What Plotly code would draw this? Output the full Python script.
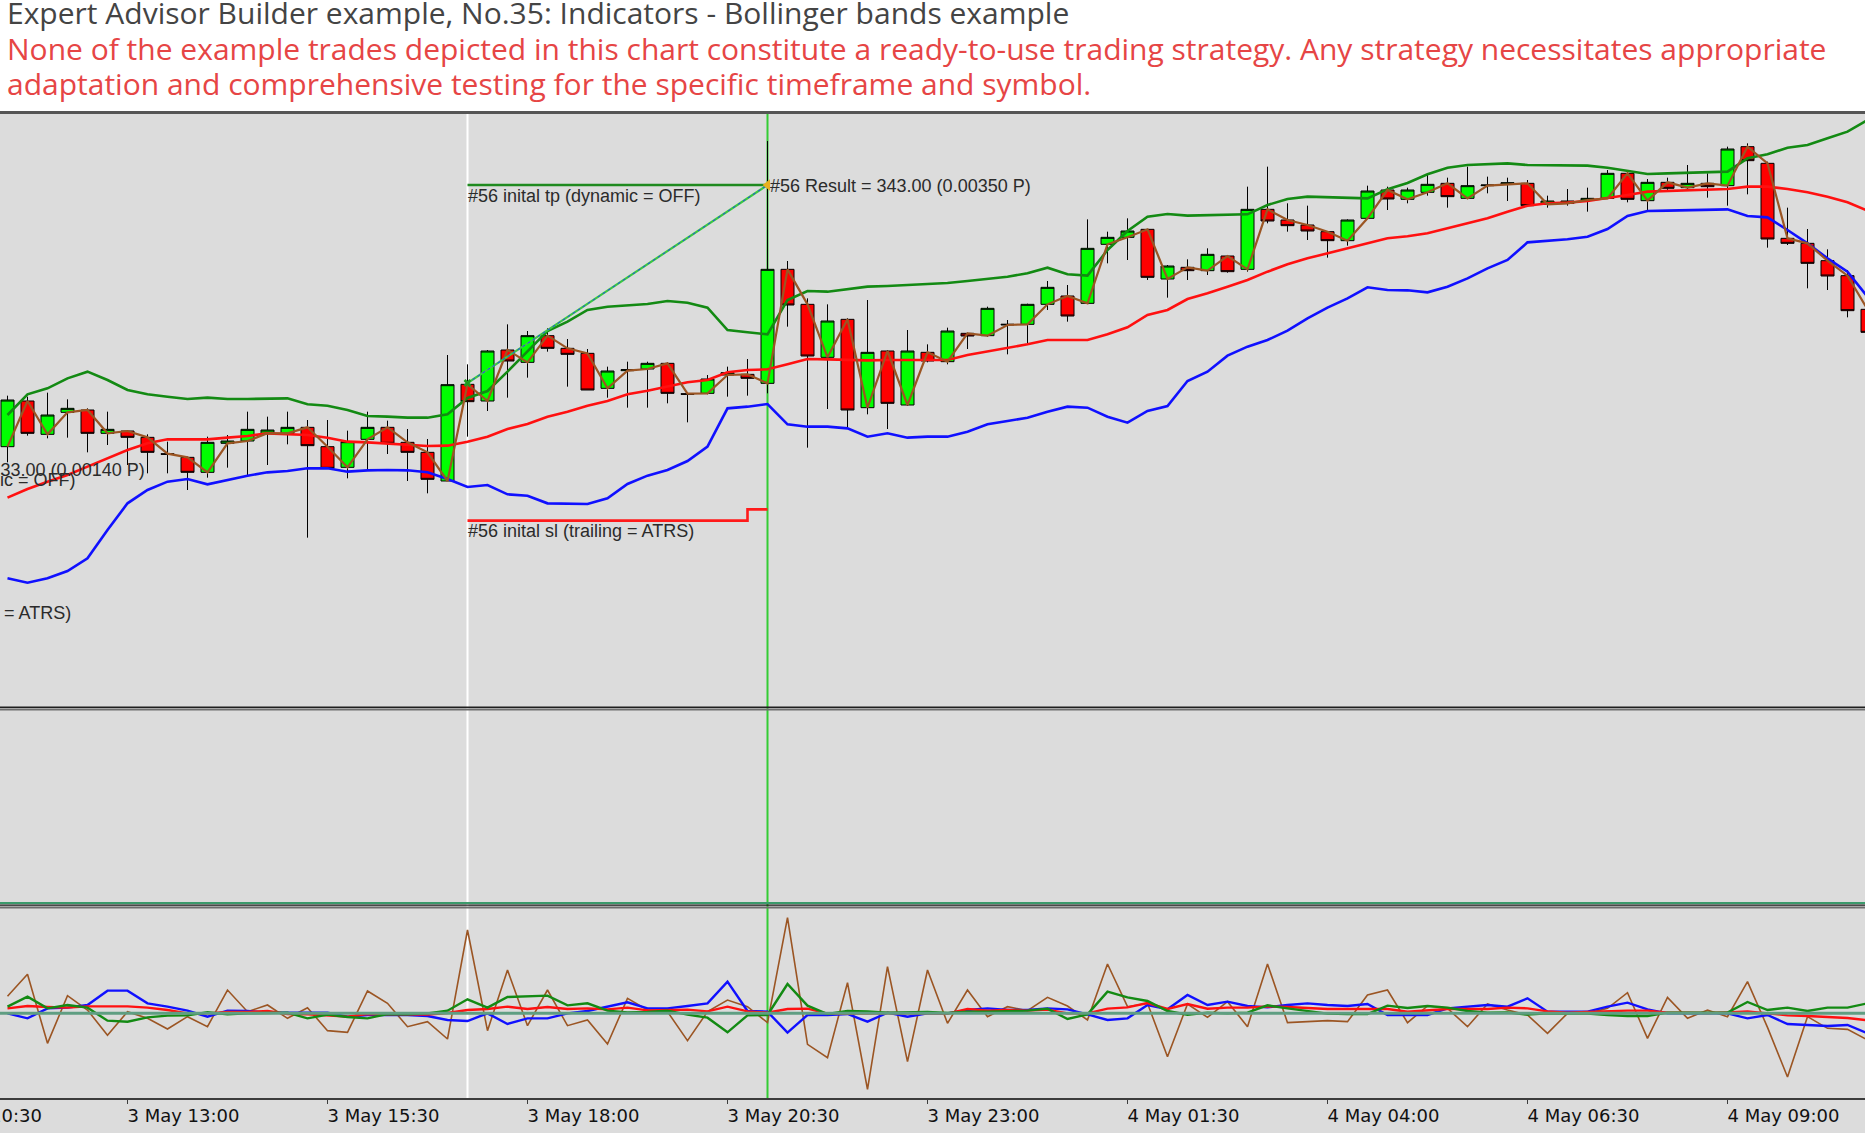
import pandas as pd
import plotly.graph_objects as go

# ---------------- data ----------------
times = pd.date_range("2024-05-03 11:30", periods=94, freq="15min")

open_ = [787, 924, 824, 890, 897, 827, 834, 815, 766, 755,
         710, 797, 804, 827, 827, 845, 787, 725, 809, 845,
         800, 770, 684, 974, 924, 1077, 1040, 1120, 1082, 1067,
         962, 1015, 1020, 1037, 946, 947, 1002, 1004, 977, 1319,
         1214, 1055, 1169, 904, 1074, 912, 1070, 1042, 1127, 1120,
         1152, 1154, 1214, 1239, 1217, 1394, 1415, 1439, 1290, 1325,
         1315, 1359, 1319, 1499, 1467, 1452, 1432, 1405, 1472, 1557,
         1529, 1550, 1577, 1532, 1570, 1574, 1577, 1514, 1517, 1527,
         1532, 1607, 1525, 1580, 1564, 1577, 1570, 1687, 1637, 1412,
         1397, 1345, 1300, 1199]
high = [940, 937, 949, 929, 902, 892, 837, 824, 802, 757,
        817, 822, 892, 877, 892, 867, 867, 835, 892, 865,
        840, 810, 1062, 1034, 1077, 1154, 1134, 1142, 1110, 1080,
        1027, 1042, 1042, 1040, 947, 1002, 1027, 1050, 1704, 1344,
        1232, 1214, 1172, 1227, 1076, 1137, 1094, 1144, 1129, 1207,
        1167, 1216, 1284, 1272, 1469, 1432, 1472, 1440, 1332, 1349,
        1382, 1362, 1567, 1627, 1517, 1510, 1434, 1469, 1570, 1567,
        1564, 1602, 1594, 1627, 1597, 1594, 1587, 1540, 1560, 1564,
        1617, 1610, 1590, 1594, 1632, 1607, 1687, 1697, 1642, 1504,
        1440, 1379, 1317, 1202]
low = [740, 820, 812, 814, 770, 792, 732, 707, 707, 657,
       694, 724, 702, 732, 794, 514, 720, 692, 720, 765,
       684, 647, 684, 817, 894, 934, 994, 1072, 967, 957,
       934, 904, 904, 917, 860, 944, 937, 940, 947, 1147,
       784, 900, 842, 884, 840, 910, 1040, 1034, 1080, 1117,
       1064, 1097, 1197, 1162, 1215, 1337, 1347, 1287, 1234, 1287,
       1302, 1309, 1312, 1457, 1432, 1407, 1354, 1390, 1470, 1497,
       1517, 1540, 1504, 1530, 1547, 1524, 1510, 1504, 1510, 1492,
       1530, 1520, 1497, 1557, 1560, 1534, 1510, 1544, 1384, 1392,
       1262, 1257, 1175, 1112]
close = [927, 827, 882, 902, 827, 839, 815, 770, 764, 710,
         800, 804, 839, 837, 845, 790, 722, 802, 845, 797,
         770, 689, 973, 922, 1074, 1044, 1120, 1082, 1064, 957,
         1014, 1018, 1037, 947, 944, 990, 1009, 992, 1319, 1212,
         1059, 1164, 897, 1070, 917, 1074, 1044, 1134, 1119, 1202,
         1154, 1214, 1265, 1179, 1382, 1415, 1434, 1295, 1329, 1315,
         1364, 1312, 1499, 1464, 1450, 1434, 1405, 1467, 1554, 1530,
         1557, 1574, 1537, 1570, 1572, 1579, 1510, 1524, 1524, 1532,
         1607, 1529, 1580, 1562, 1577, 1567, 1680, 1645, 1410, 1397,
         1337, 1299, 1195, 1130]

bb_upper = [882, 944, 962, 992, 1012, 987, 957, 944, 937, 930,
            934, 930, 930, 930, 932, 914, 910, 897, 879, 877,
            874, 874, 884, 933, 954, 1012, 1072, 1134, 1162, 1197,
            1207, 1210, 1215, 1224, 1219, 1204, 1137, 1130, 1124, 1227,
            1254, 1252, 1260, 1267, 1269, 1272, 1277, 1278, 1284, 1290,
            1297, 1307, 1324, 1304, 1300, 1377, 1434, 1477, 1485, 1480,
            1482, 1482, 1484, 1512, 1530, 1537, 1536, 1534, 1532, 1559,
            1578, 1604, 1624, 1632, 1634, 1637, 1632, 1632, 1631, 1630,
            1624, 1614, 1605, 1607, 1609, 1610, 1612, 1652, 1664, 1684,
            1692, 1712, 1732, 1767]
bb_middle = [634, 660, 682, 702, 727, 752, 777, 797, 809, 809,
             809, 814, 819, 827, 825, 822, 814, 802, 800, 797,
             794, 789, 790, 802, 817, 840, 855, 877, 892, 910,
             924, 944, 955, 967, 980, 987, 1010, 1017, 1019, 1034,
             1050, 1049, 1047, 1046, 1047, 1047, 1048, 1047, 1062, 1072,
             1084, 1094, 1107, 1107, 1107, 1124, 1145, 1182, 1197, 1230,
             1247, 1267, 1287, 1312, 1334, 1352, 1367, 1382, 1397, 1412,
             1418, 1427, 1442, 1457, 1472, 1492, 1510, 1517, 1519, 1524,
             1532, 1542, 1552, 1554, 1556, 1557, 1560, 1567, 1567, 1560,
             1550, 1537, 1520, 1495]
bb_lower = [392, 379, 392, 414, 452, 537, 617, 657, 682, 690,
            674, 687, 700, 710, 714, 722, 722, 712, 716, 717,
            716, 710, 690, 666, 672, 644, 640, 617, 615, 615,
            632, 675, 700, 717, 744, 787, 902, 907, 915, 854,
            847, 847, 842, 817, 827, 814, 817, 817, 832, 854,
            864, 874, 892, 907, 904, 877, 859, 894, 909, 984,
            1012, 1060, 1087, 1107, 1135, 1172, 1204, 1232, 1265, 1257,
            1256, 1250, 1267, 1292, 1322, 1347, 1400, 1404, 1409, 1417,
            1440, 1479, 1494, 1495, 1497, 1499, 1499, 1479, 1475, 1437,
            1397, 1352, 1312, 1237]

osc_brown = [51, 117, -90, 53, 10, -66, 5, -15, -47, -10,
             -40, 70, 5, 25, -15, 17, -52, -57, 67, 30,
             -40, -25, -77, 250, -52, 130, -37, 70, -37, -20,
             -92, 45, 10, 5, -82, 5, 40, 20, -28, 287,
             -93, -133, 92, -228, 140, -145, 130, -30, 70, -10,
             20, 8, 48, 22, -20, 148, 20, 30, -130, 28,
             -12, 35, -40, 148, -28, -25, -22, -25, 55, 70,
             -28, 22, 15, -40, 28, 10, -5, -60, 0, 0,
             15, 62, -75, 48, -15, 10, -10, 95, -42, -191,
             -10, -45, -48, -80]
osc_blue = [0, -15, 15, 17, 25, 68, 68, 30, 20, 8,
            -10, 8, 7, 2, 2, 2, 2, -10, -5, -5,
            -5, -8, -20, -23, 0, -32, -15, -15, 0, 7,
            20, 33, 15, 15, 22, 30, 95, 7, 5, -58,
            -5, -5, -2, -25, 2, -10, 0, 0, 10, 15,
            10, 10, 15, 12, -3, -20, -15, 25, 12, 55,
            25, 35, 22, 18, 25, 30, 25, 22, 28, -5,
            -5, -5, 15, 20, 25, 20, 45, 5, 5, 5,
            20, 32, 12, 0, 0, 0, 0, -15, -5, -32,
            -35, -38, -35, -60]
osc_green = [20, 50, 15, 25, 17, -22, -25, -12, -7, -6,
             3, -3, 0, 0, 2, -15, -4, -11, -15, -2,
             -3, 0, 8, 42, 17, 49, 51, 53, 24, 30,
             8, 3, 4, 8, -4, -13, -57, -6, -5, 88,
             23, -2, 7, 6, 2, 3, 4, 1, 5, 5,
             6, 8, 14, -17, -3, 65, 48, 37, 7, -4,
             2, 0, 2, 24, 15, 6, -1, -2, -2, 23,
             16, 22, 17, 7, 2, 3, -4, 0, -1, -1,
             -5, -8, -8, 2, 2, 1, 2, 34, 10, 17,
             7, 17, 17, 30]
osc_red = [15, 22, 19, 17, 21, 21, 21, 17, 10, 0,
           0, 4, 4, 7, -2, -3, -7, -10, -2, -3,
           -3, -4, 1, 10, 13, 20, 13, 19, 13, 15,
           12, 17, 9, 10, 11, 6, 20, 6, 2, 13,
           14, -1, -2, -1, 1, 0, 1, -1, 13, 8,
           10, 8, 11, 0, 0, 14, 18, 31, 13, 28,
           14, 17, 17, 21, 19, 15, 13, 13, 13, 13,
           5, 8, 13, 13, 13, 17, 15, 6, 2, 4,
           7, 8, 8, 2, 2, 1, 3, 6, 0, -6,
           -8, -11, -14, -21]

tick_times = ["2024-05-03 13:00", "2024-05-03 15:30", "2024-05-03 18:00",
              "2024-05-03 20:30", "2024-05-03 23:00", "2024-05-04 01:30",
              "2024-05-04 04:00", "2024-05-04 06:30", "2024-05-04 09:00"]
tick_text = ["3 May 13:00", "3 May 15:30", "3 May 18:00", "3 May 20:30",
             "3 May 23:00", "4 May 01:30", "4 May 04:00", "4 May 06:30",
             "4 May 09:00"]

entry_idx, exit_idx = 23, 38
entry_price = 978
tp_level = 1572
sl_idx = [23, 37, 38]
sl_levels = [565, 599, 599]

# ---------------- geometry ----------------
W, H = 1865, 1133
TOP, BOT = 112, 1098            # plot area in page pixels
PH = BOT - TOP


def py(y):
    return (BOT - y) / PH


BG = "#dcdcdc"
ARIAL = "Liberation Sans, Arial, sans-serif"
TICKF = "DejaVu Sans, Verdana, sans-serif"

x0 = times[0] - pd.Timedelta(minutes=15 * 0.375)
x1 = times[0] + pd.Timedelta(minutes=15 * 92.875)

fig = go.Figure()

fig.add_trace(go.Candlestick(
    x=times, open=open_, high=high, low=low, close=close,
    increasing=dict(fillcolor="#00ff00", line=dict(color="#000000", width=1)),
    decreasing=dict(fillcolor="#ff0000", line=dict(color="#000000", width=1)),
    whiskerwidth=0, xaxis="x", yaxis="y", hoverinfo="skip", showlegend=False))

band_w = 2.6
fig.add_trace(go.Scatter(x=times, y=bb_upper, mode="lines",
                         line=dict(color="#138a13", width=band_w), yaxis="y"))
fig.add_trace(go.Scatter(x=times, y=bb_middle, mode="lines",
                         line=dict(color="#ff1010", width=band_w), yaxis="y"))
fig.add_trace(go.Scatter(x=times, y=bb_lower, mode="lines",
                         line=dict(color="#1010ff", width=band_w), yaxis="y"))
fig.add_trace(go.Scatter(x=times, y=open_, mode="lines",
                         line=dict(color="#9b5523", width=2.2), yaxis="y"))

# trade drawing
fig.add_trace(go.Scatter(x=[times[entry_idx], times[exit_idx]], y=[tp_level, tp_level],
                         mode="lines", line=dict(color="#1f8a1f", width=2.6), yaxis="y"))
fig.add_trace(go.Scatter(x=[times[i] for i in sl_idx], y=sl_levels, mode="lines",
                         line=dict(color="#ff1a1a", width=2.6, shape="hv"), yaxis="y"))
fig.add_trace(go.Scatter(x=[times[entry_idx], times[exit_idx]], y=[entry_price, tp_level],
                         mode="lines", line=dict(color="#3ccc3c", width=2.2), yaxis="y"))
fig.add_trace(go.Scatter(x=[times[entry_idx], times[exit_idx]], y=[entry_price, tp_level],
                         mode="lines", line=dict(color="#2040ff", width=1, dash="dot"), yaxis="y"))
fig.add_trace(go.Scatter(x=[times[entry_idx]], y=[entry_price], mode="markers",
                         marker=dict(symbol="x", size=7, color="#1f9a1f"), yaxis="y"))
fig.add_trace(go.Scatter(x=[times[exit_idx]], y=[tp_level], mode="markers",
                         marker=dict(symbol="triangle-left", size=10, color="#e8b020"), yaxis="y"))

# oscillator panel
fig.add_trace(go.Scatter(x=times, y=osc_brown, mode="lines",
                         line=dict(color="#9b5523", width=1.6), yaxis="y3"))
fig.add_trace(go.Scatter(x=times, y=osc_blue, mode="lines",
                         line=dict(color="#1010ff", width=2.4), yaxis="y3"))
fig.add_trace(go.Scatter(x=times, y=osc_red, mode="lines",
                         line=dict(color="#ff1010", width=2.4), yaxis="y3"))
fig.add_trace(go.Scatter(x=times, y=osc_green, mode="lines",
                         line=dict(color="#138a13", width=2.4), yaxis="y3"))

shapes = [
    dict(type="rect", xref="paper", yref="paper", x0=0, x1=1, y0=-0.06, y1=1,
         fillcolor=BG, line=dict(width=0), layer="below"),
    dict(type="line", xref="x", yref="paper", x0=times[entry_idx], x1=times[entry_idx],
         y0=0, y1=1, line=dict(color="#ffffff", width=2), layer="below"),
    dict(type="line", xref="x", yref="paper", x0=times[exit_idx], x1=times[exit_idx],
         y0=0, y1=1, line=dict(color="#33cc33", width=2), layer="below"),
    dict(type="line", xref="paper", yref="paper", x0=0, x1=1, y0=py(112.5), y1=py(112.5),
         line=dict(color="#555555", width=3), layer="above"),
    dict(type="line", xref="paper", yref="paper", x0=0, x1=1, y0=py(707.3), y1=py(707.3),
         line=dict(color="#1e1e1e", width=1.4), layer="above"),
    dict(type="line", xref="paper", yref="paper", x0=0, x1=1, y0=py(709.4), y1=py(709.4),
         line=dict(color="#6e6e6e", width=2), layer="above"),
    dict(type="line", xref="paper", yref="paper", x0=0, x1=1, y0=py(903), y1=py(903),
         line=dict(color="#3c9a6c", width=2), layer="above"),
    dict(type="line", xref="paper", yref="paper", x0=0, x1=1, y0=py(905.2), y1=py(905.2),
         line=dict(color="#1a1a1a", width=1.2), layer="above"),
    dict(type="line", xref="paper", yref="paper", x0=0, x1=1, y0=py(907.4), y1=py(907.4),
         line=dict(color="#6e6e6e", width=2), layer="above"),
    dict(type="line", xref="paper", yref="y3", x0=0, x1=1, y0=0, y1=0,
         line=dict(color="#5f9e82", width=3), layer="above"),
]

txt = dict(family=ARIAL, size=18, color="#2b2b2b")
TFS = 30
annotations = [
    dict(xref="paper", yref="paper", x=5 / W, y=py(12.6), xanchor="left", yanchor="middle",
         text="Expert Advisor Builder example, No.35: Indicators - Bollinger bands example",
         showarrow=False, font=dict(family="Open Sans", size=TFS, color="#444444")),
    dict(xref="paper", yref="paper", x=5 / W, y=py(48.0), xanchor="left", yanchor="middle",
         text="None of the example trades depicted in this chart constitute a ready-to-use trading "
              "strategy. Any strategy necessitates appropriate",
         showarrow=False, font=dict(family="Open Sans", size=TFS, color="#e64545")),
    dict(xref="paper", yref="paper", x=5 / W, y=py(83.6), xanchor="left", yanchor="middle",
         text="adaptation and comprehensive testing for the specific timeframe and symbol.",
         showarrow=False, font=dict(family="Open Sans", size=TFS, color="#e64545")),
    dict(xref="x", yref="y", x=times[entry_idx], y=1539, xanchor="left", yanchor="middle",
         xshift=-2, text="#56 inital tp (dynamic = OFF)", showarrow=False, font=txt),
    dict(xref="x", yref="y", x=times[exit_idx], y=1570, xanchor="left", yanchor="middle",
         xshift=0, text="#56 Result = 343.00 (0.00350 P)", showarrow=False, font=txt),
    dict(xref="x", yref="y", x=times[entry_idx], y=534, xanchor="left", yanchor="middle",
         xshift=-2, text="#56 inital sl (trailing = ATRS)", showarrow=False, font=txt),
    dict(xref="paper", yref="y", x=147 / W, y=717, xanchor="right", yanchor="middle",
         text="#55 Result = 133.00 (0.00140 P)", showarrow=False, font=txt),
    dict(xref="paper", yref="y", x=78 / W, y=687, xanchor="right", yanchor="middle",
         text="#55 inital tp (dynamic = OFF)", showarrow=False, font=txt),
    dict(xref="paper", yref="y", x=73 / W, y=288, xanchor="right", yanchor="middle",
         text="#55 inital sl (trailing = ATRS)", showarrow=False, font=txt),
    dict(xref="paper", yref="paper", x=-72.5 / W, y=py(1115.5), xanchor="left", yanchor="middle",
         text="3 May 10:30", showarrow=False,
         font=dict(family=TICKF, size=18, color="#111111")),
]

fig.update_layout(
    width=W, height=H, autosize=False,
    margin=dict(l=0, r=0, t=TOP, b=H - BOT, pad=0),
    paper_bgcolor="#ffffff", plot_bgcolor="rgba(0,0,0,0)",
    showlegend=False, hovermode=False,
    boxgap=0.35, boxgroupgap=0,
    shapes=shapes, annotations=annotations,
    xaxis=dict(type="date", range=[x0, x1], anchor="y3", showgrid=False, zeroline=False,
               showline=True, linecolor="#3c3c3c", linewidth=2, mirror=False,
               ticks="outside", ticklen=4, tickwidth=1, tickcolor="#3c3c3c",
               tickvals=tick_times, ticktext=tick_text, ticklabelshift=56,
               ticklabelstandoff=-4,
               tickfont=dict(family=TICKF, size=18, color="#111111"),
               rangeslider=dict(visible=False), fixedrange=True),
    yaxis=dict(domain=[py(707), 1.0], range=[6, 1791], visible=False, fixedrange=True),
    yaxis2=dict(domain=[py(902), py(710)], range=[0, 1], visible=False, fixedrange=True),
    yaxis3=dict(domain=[0, py(907)], range=[-254, 319], visible=False, fixedrange=True),
)

fig.write_html("out.html")
